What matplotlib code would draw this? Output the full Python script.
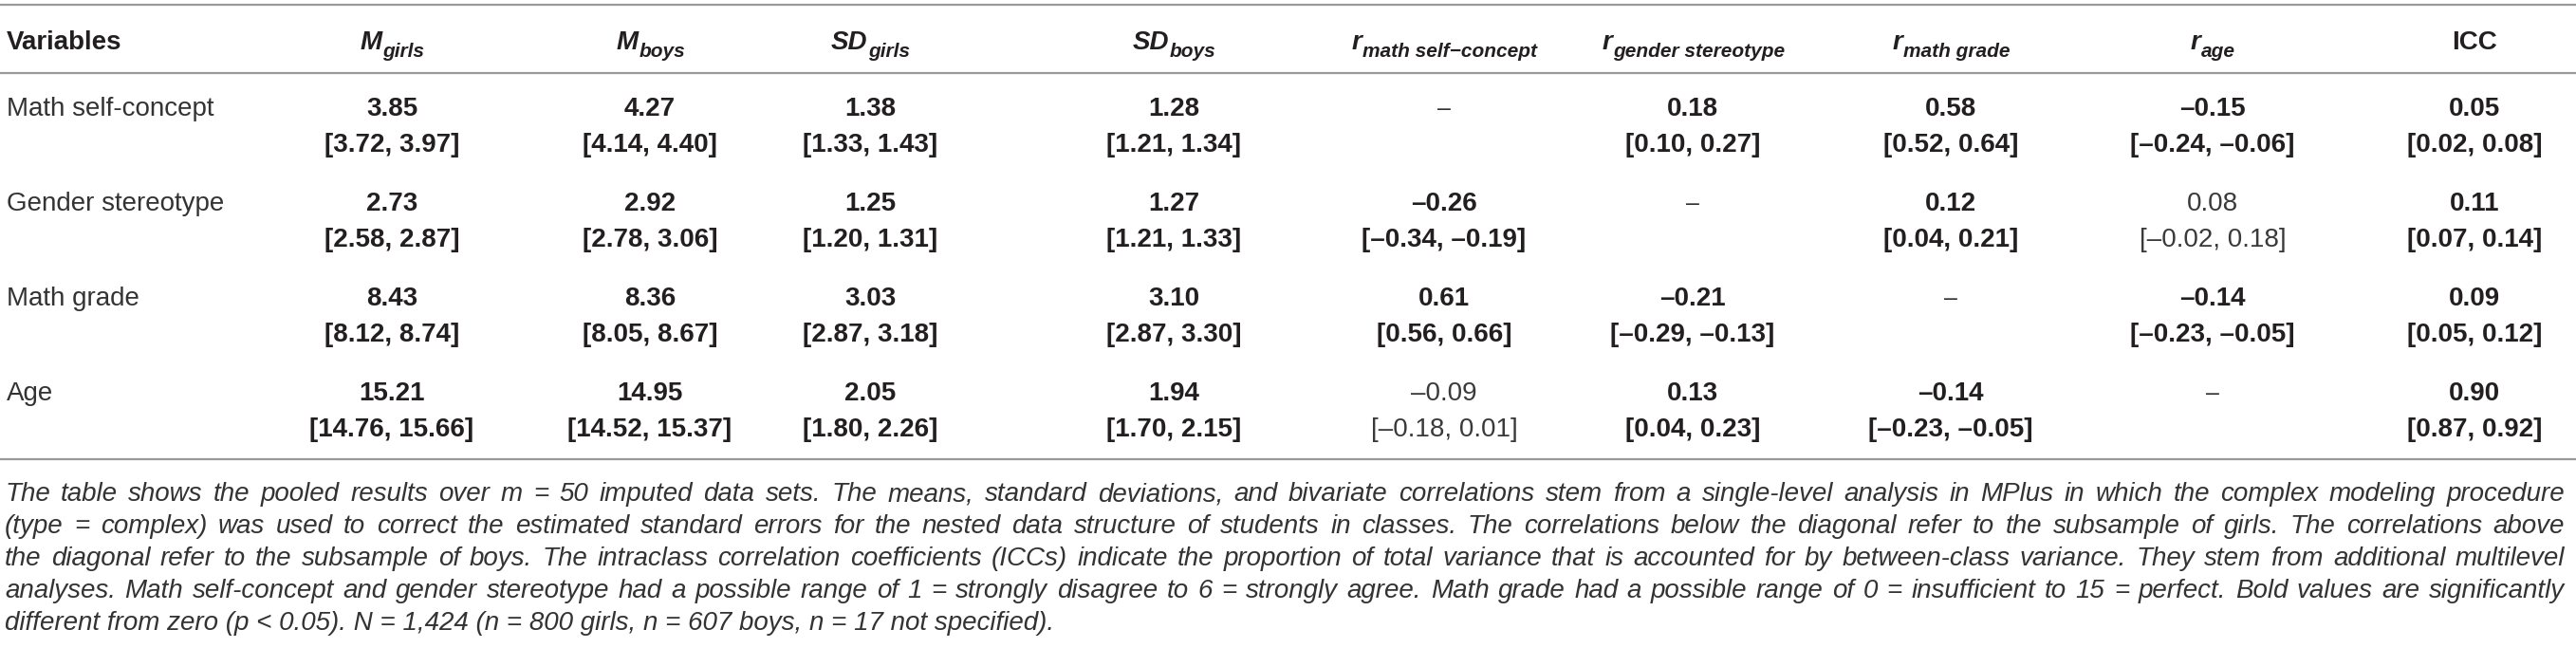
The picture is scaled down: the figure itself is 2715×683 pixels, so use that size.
import matplotlib
matplotlib.use("Agg")
import matplotlib.pyplot as plt

plt.rcParams['font.family'] = ['Liberation Sans', 'DejaVu Sans']

# ---- data ----
variables = ["Math self-concept", "Gender stereotype", "Math grade", "Age"]

m_girls = [3.85, 2.73, 8.43, 15.21]
m_girls_ci = [(3.72, 3.97), (2.58, 2.87), (8.12, 8.74), (14.76, 15.66)]
m_boys = [4.27, 2.92, 8.36, 14.95]
m_boys_ci = [(4.14, 4.40), (2.78, 3.06), (8.05, 8.67), (14.52, 15.37)]
sd_girls = [1.38, 1.25, 3.03, 2.05]
sd_girls_ci = [(1.33, 1.43), (1.20, 1.31), (2.87, 3.18), (1.80, 2.26)]
sd_boys = [1.28, 1.27, 3.10, 1.94]
sd_boys_ci = [(1.21, 1.34), (1.21, 1.33), (2.87, 3.30), (1.70, 2.15)]

# correlations: below diagonal girls, above diagonal boys (None = diagonal)
r_vals = [[None, 0.18, 0.58, -0.15],
          [-0.26, None, 0.12, 0.08],
          [0.61, -0.21, None, -0.14],
          [-0.09, 0.13, -0.14, None]]
r_ci = [[None, (0.10, 0.27), (0.52, 0.64), (-0.24, -0.06)],
        [(-0.34, -0.19), None, (0.04, 0.21), (-0.02, 0.18)],
        [(0.56, 0.66), (-0.29, -0.13), None, (-0.23, -0.05)],
        [(-0.18, 0.01), (0.04, 0.23), (-0.23, -0.05), None]]
r_sig = [[None, True, True, True],
         [True, None, True, False],
         [True, True, None, True],
         [False, True, True, None]]

icc = [0.05, 0.11, 0.09, 0.90]
icc_ci = [(0.02, 0.08), (0.07, 0.14), (0.05, 0.12), (0.87, 0.92)]

headers = [("Variables", ""), ("M", "girls"), ("M", "boys"), ("SD", "girls"),
           ("SD", "boys"), ("r", "math self\u2212concept"), ("r", "gender stereotype"),
           ("r", "math grade"), ("r", "age"), ("ICC", "")]

note_lines = [
    "The table shows the pooled results over m = 50 imputed data sets. The means, standard deviations, and bivariate correlations stem from a single-level analysis in MPlus in which the complex modeling procedure",
    "(type = complex) was used to correct the estimated standard errors for the nested data structure of students in classes. The correlations below the diagonal refer to the subsample of girls. The correlations above",
    "the diagonal refer to the subsample of boys. The intraclass correlation coefficients (ICCs) indicate the proportion of total variance that is accounted for by between-class variance. They stem from additional multilevel",
    "analyses. Math self-concept and gender stereotype had a possible range of 1 = strongly disagree to 6 = strongly agree. Math grade had a possible range of 0 = insufficient to 15 = perfect. Bold values are significantly",
    "different from zero (p < 0.05). N = 1,424 (n = 800 girls, n = 607 boys, n = 17 not specified).",
]

# ---- layout ----
W, H = 2715, 683
col_x = [413, 685, 917, 1237, 1522, 1784, 2056, 2332, 2608]
left_x = 7
head_base = 52
row_base = [122, 222, 322, 422]
ci_gap = 38
note_base = 528
note_gap = 34
txt = '#231f20'
line_col = '#999999'

fig = plt.figure(figsize=(W / 100, H / 100), dpi=100)
ax = fig.add_axes([0, 0, 1, 1])
ax.set_xlim(0, W)
ax.set_ylim(H, 0)
ax.axis('off')
renderer = fig.canvas.get_renderer()


def width(s, **kw):
    t = ax.text(0, 0, s, **kw)
    w = t.get_window_extent(renderer).width
    t.remove()
    return w


def fmt(v):
    s = "%.2f" % abs(v)
    return ("\u2013" + s) if v < 0 else s


def cell(x, base, val, ci, bold=True):
    kw = dict(fontsize=20, color=txt, ha='center', va='baseline',
              fontweight='bold' if bold else 'normal')
    if not bold:
        kw['color'] = '#3a3a3a'
    ax.text(x, base, fmt(val), **kw)
    ax.text(x, base + ci_gap, "[%s, %s]" % (fmt(ci[0]), fmt(ci[1])), **kw)


# rules
for y in [5, 77, 484]:
    ax.plot([0, W], [y, y], color=line_col, lw=1.6, solid_capstyle='butt')

# header
ax.text(left_x, head_base, headers[0][0], fontsize=20, fontweight='bold',
        color=txt, ha='left', va='baseline')
for cx, (main, sub) in zip(col_x, headers[1:]):
    if sub == "":
        ax.text(cx, head_base, main, fontsize=20, fontweight='bold',
                color=txt, ha='center', va='baseline')
        continue
    mk = dict(fontsize=20, fontweight='bold', style='italic')
    sk = dict(fontsize=15, fontweight='bold', style='italic')
    wm = width(main, **mk)
    ws = width(sub, **sk)
    x0 = cx - (wm + ws) / 2
    ax.text(x0, head_base, main, color=txt, ha='left', va='baseline', **mk)
    ax.text(x0 + wm + 1, head_base + 8, sub, color=txt, ha='left',
            va='baseline', **sk)

# body
for i, name in enumerate(variables):
    b = row_base[i]
    ax.text(left_x, b, name, fontsize=20, color='#333333', ha='left',
            va='baseline')
    cell(col_x[0], b, m_girls[i], m_girls_ci[i])
    cell(col_x[1], b, m_boys[i], m_boys_ci[i])
    cell(col_x[2], b, sd_girls[i], sd_girls_ci[i])
    cell(col_x[3], b, sd_boys[i], sd_boys_ci[i])
    for j in range(4):
        if r_vals[i][j] is None:
            ax.text(col_x[4 + j], b, "\u2013", fontsize=18, color='#333333',
                    ha='center', va='baseline')
        else:
            cell(col_x[4 + j], b, r_vals[i][j], r_ci[i][j], r_sig[i][j])
    cell(col_x[8], b, icc[i], icc_ci[i])

# note, justified
nk = dict(style='italic', color='#333333')
target = 2703 - 5
fs = 20
worst = max(width(l, fontsize=fs, **nk) for l in note_lines[:-1])
fs = fs * min(1.0, target / worst * 0.985)
for k, line in enumerate(note_lines):
    y = note_base + k * note_gap
    if k == len(note_lines) - 1:
        ax.text(5, y, line, fontsize=fs, ha='left', va='baseline', **nk)
        continue
    words = line.split(' ')
    ws = [width(w, fontsize=fs, **nk) for w in words]
    gap = (target - sum(ws)) / (len(words) - 1)
    x = 5
    for w, wd in zip(words, ws):
        ax.text(x, y, w, fontsize=fs, ha='left', va='baseline', **nk)
        x += wd + gap

fig.savefig("out.png", dpi=100)
